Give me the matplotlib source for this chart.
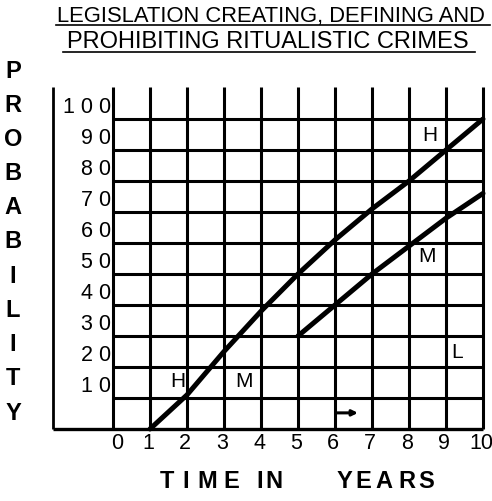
import matplotlib
matplotlib.use("Agg")
import matplotlib.pyplot as plt

# ---- data ----
years_h = [1, 2, 3, 4, 5, 6, 7, 8, 9, 10]
prob_h = [0, 11, 25, 38, 50, 61, 71, 80, 90, 100]
years_m = [5, 6, 7, 8, 9, 10]
prob_m = [30, 40, 50, 59, 68, 76]
x_ticks = list(range(0, 11))
y_ticks = [10, 20, 30, 40, 50, 60, 70, 80, 90, 100]
y_tick_labels = ["1 0", "2 0", "3 0", "4 0", "5 0", "6 0", "7 0", "8 0", "9 0", "1 0 0"]
title_lines = ["LEGISLATION CREATING, DEFINING AND", "PROHIBITING RITUALISTIC CRIMES"]
y_label = "PROBABILITY"
x_label = "TIME IN YEARS"

W, H = 492, 501
DPI = 100
plt.rcParams['font.family'] = ['Liberation Sans', 'DejaVu Sans']

fig = plt.figure(figsize=(W / DPI, H / DPI), dpi=DPI)
fig.patch.set_facecolor("white")

# pixel mapping of the hand-drawn grid
X0, XS = 113.0, 37.0   # px of x=0, px per year
Y0, YS = 429.0, 3.1    # px of y=0, px per unit

ax = fig.add_axes([0, 0, 1, 1])
ax.set_xlim(-X0 / XS, (W - X0) / XS)
ax.set_ylim((Y0 - H) / YS, Y0 / YS)
ax.axis("off")


def fx(px):
    return px / W


def fy(py):
    return 1 - py / H


top = (Y0 - 87) / YS
frame_x = (53 - X0) / XS

# grid
ax.vlines(x_ticks, 0, top, color="black", lw=2.2, zorder=2)
ax.hlines(y_ticks, 0, 10, color="black", lw=2.2, zorder=2)
ax.hlines([0], frame_x, 10, color="black", lw=2.4, zorder=2)
ax.vlines([frame_x], 0, top, color="black", lw=2.0, zorder=2)

# curves
ax.plot(years_h, prob_h, color="black", lw=3.6, solid_capstyle="round", zorder=3)
ax.plot(years_m, prob_m, color="black", lw=3.6, solid_capstyle="round", zorder=3)

# y tick labels
for v, lab in zip(y_ticks, y_tick_labels):
    ax.text(-0.06, v + 0.3, lab, ha="right", va="bottom", fontsize=15.5)

# x tick labels
for t in x_ticks:
    ax.text(t + (0.12 if t == 0 else -0.05), -4.8, str(t), ha="center", va="center", fontsize=15.5)

# curve labels
ax.text(8.57, 94.8, "H", ha="center", va="center", fontsize=15)
ax.text(8.49, 55.8, "M", ha="center", va="center", fontsize=15)
ax.text(1.76, 15.2, "H", ha="center", va="center", fontsize=15)
ax.text(3.54, 15.2, "M", ha="center", va="center", fontsize=15)
ax.text(9.3, 24.8, "L", ha="center", va="center", fontsize=15)
ax.annotate("", xy=(6.62, 5.2), xytext=(6.05, 5.2),
            arrowprops=dict(arrowstyle="-|>", color="black", lw=2.2,
                            mutation_scale=8, shrinkA=0, shrinkB=0))

# title with underlines
fig.text(fx(57), fy(22), title_lines[0], ha="left", va="baseline", fontsize=15.8)
fig.text(fx(67), fy(48), title_lines[1], ha="left", va="baseline", fontsize=17)
fig.add_artist(plt.Line2D([fx(56), fx(490)], [fy(24.5), fy(24.5)], color="black", lw=1.2))
fig.add_artist(plt.Line2D([fx(63), fx(475)], [fy(52), fy(52)], color="black", lw=1.2))

# vertical y label, letter by letter
for i, ch in enumerate(y_label):
    fig.text(fx(13), fy(71 + i * 34.2), ch, ha="center", va="center",
             fontsize=17, fontweight="bold")

# x label, letters placed as in the reference (spaced)
x_label_centers = [167, 185.5, 207.5, 231, None, 259.5, 273.5, None, 344, 363.5, 384, 406.5, 426.5]
for ch, cx in zip(x_label, x_label_centers):
    if cx is None:
        continue
    fig.text(fx(cx), fy(482), ch, ha="center", va="center",
             fontsize=17, fontweight="bold")

fig.savefig("out.png", dpi=DPI)
